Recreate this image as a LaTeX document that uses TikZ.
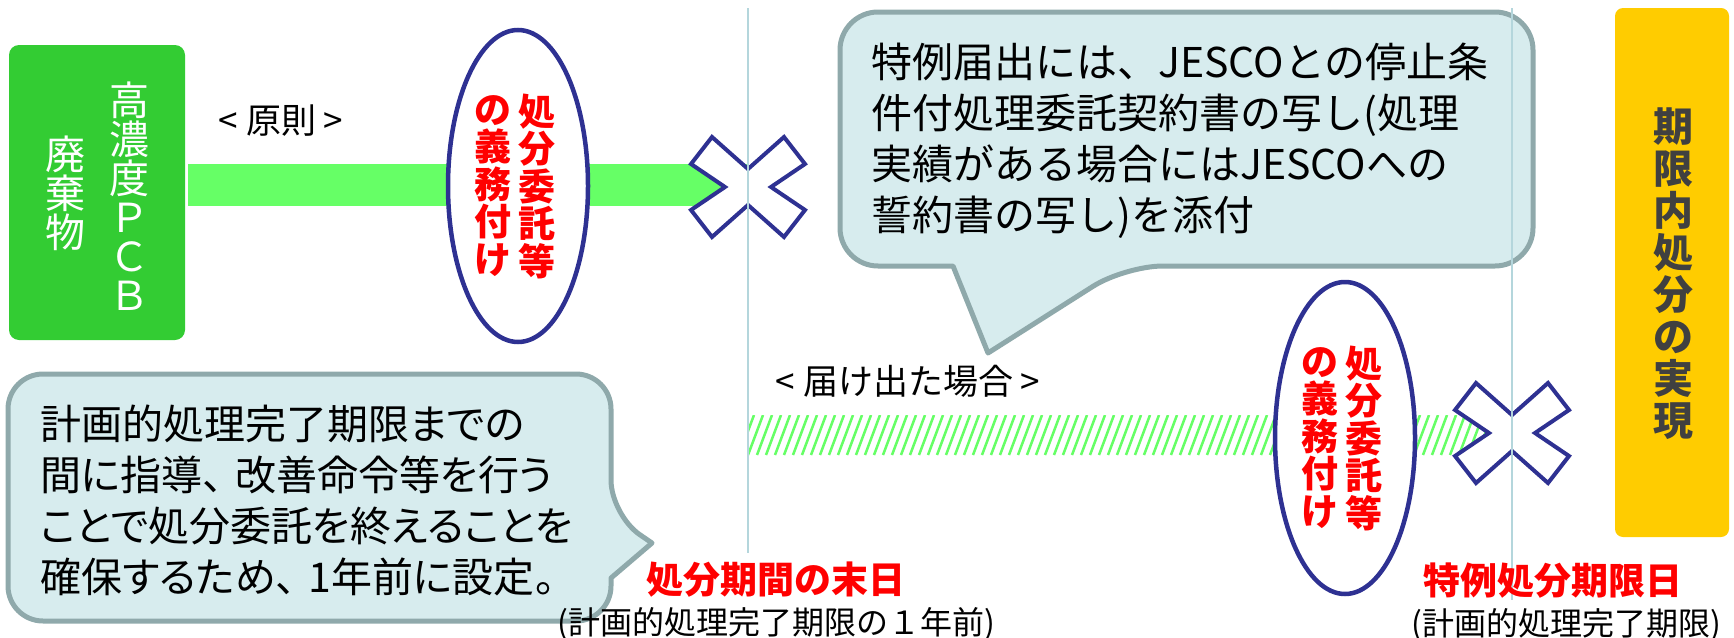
\documentclass[tikz,border=0pt]{standalone}
\usepackage{fontspec}
\setmainfont{Noto Sans CJK JP}
\newfontfamily\jpProp{Noto Sans CJK JP}[RawFeature=+palt]
\usetikzlibrary{shapes.geometric, positioning}
\definecolor{wasteGreen}{HTML}{33CC33}
\definecolor{barGreen}{HTML}{66FF66}
\definecolor{goalYellow}{HTML}{FFCC00}
\definecolor{goalGray}{HTML}{404040}
\definecolor{ovalNavy}{HTML}{2E3192}
\definecolor{noteFill}{HTML}{D7ECEE}
\definecolor{noteEdge}{HTML}{8FA9AB}
\definecolor{guideBlue}{HTML}{B4D6DC}
\setlength{\lineskiplimit}{-100pt}
\tikzstyle{pWaste} = [rectangle, rounded corners=10pt, minimum width=176pt, minimum height=295pt, fill=wasteGreen]
\tikzstyle{pWasteText} = [align=center, inner sep=0pt, text=white, font=\fontsize{40}{39}\selectfont]
\tikzstyle{pGoal} = [rectangle, rounded corners=8pt, minimum width=114pt, minimum height=529pt, fill=goalYellow]
\tikzstyle{pGoalText} = [align=center, inner sep=0pt, text=goalGray, font=\bfseries\fontsize{40}{42}\selectfont]
\tikzstyle{pDuty} = [ellipse, draw=ovalNavy, line width=4.5pt, fill=white, minimum width=140pt, minimum height=312pt, inner sep=0pt]
\tikzstyle{pDutyText} = [align=center, inner sep=0pt, text=red, font=\bfseries\fontsize{37}{37.5}\selectfont]
\tikzstyle{pCross} = [draw=ovalNavy, line width=4pt, fill=white, line join=miter]
\tikzstyle{pNote} = [draw=noteEdge, line width=5pt, fill=noteFill, line join=round]
\tikzstyle{pNoteText} = [align=left, inner sep=0pt, anchor=west, font=\fontsize{41}{51}\selectfont]
\tikzstyle{pGuide} = [draw=guideBlue, line width=2pt]
\tikzstyle{pCase} = [inner sep=0pt, font=\fontsize{35}{40}\selectfont]
\tikzstyle{pDate} = [inner sep=0pt, text=red, font=\bfseries\fontsize{37}{40}\selectfont]
\tikzstyle{pSub} = [inner sep=0pt, font=\fontsize{32}{36}\selectfont]
\begin{document}
\begin{tikzpicture}[x=1pt, y=-1pt]
    \useasboundingbox (0,0) rectangle (1734,637);
    \node (waste) [pWaste] at (97,192.5) {};
    \node (wasteRight) [pWasteText] at (129,196) {高\\濃\\度\\Ｐ\\Ｃ\\Ｂ};
    \node (wasteLeft) [pWasteText] at (65,193.5) {廃\\棄\\物};
    \node (goal) [pGoal] at (1672,272.5) {};
    \node (goalText) [pGoalText] at (1673,273.5) {期\\限\\内\\処\\分\\の\\実\\現};
    \coordinate (crossA) at (748,187);
    \coordinate (crossB) at (1512,433);

    % bars
    \fill[barGreen] (188,164) rectangle (crossA |- 0,206);
    \begin{scope}
        \clip (crossA |- 0,415) rectangle (crossB |- 0,455);
        \foreach \k in {730,739,...,1520}
            \draw[barGreen, line width=2.5pt] (\k,455) -- (\k+15,415);
    \end{scope}

    % obligation ovals
    \node (dutyA) [pDuty] at (518,186) {};
    \node (dutyARight) [pDutyText, xshift=19pt] at (dutyA) {処\\分\\委\\託\\等};
    \node (dutyALeft) [pDutyText, xshift=-25pt] at (dutyA) {の\\義\\務\\付\\け};
    \node (dutyB) [pDuty] at (1345,438) {};
    \node (dutyBRight) [pDutyText, xshift=19pt] at (dutyB) {処\\分\\委\\託\\等};
    \node (dutyBLeft) [pDutyText, xshift=-25pt] at (dutyB) {の\\義\\務\\付\\け};

    \foreach \c in {crossA, crossB}
        \draw[pCross, shift={(\c)}] (-57,-23) -- (-36,-50) -- (0,-18) -- (36,-50) -- (57,-23) -- (23,0) -- (57,23) -- (36,50) -- (0,18) -- (-36,50) -- (-57,23) -- (-23,0) -- cycle;

    % callouts
    \draw[pNote] (953,266) [rounded corners=38pt] -- (840,266) -- (840,12) -- (1533,12) -- (1533,266) -- (1125,266) [sharp corners] -- (988,353) -- cycle;
    \draw[pNote] (611,578) [rounded corners=35pt] -- (611,621) -- (8,621) -- (8,374) -- (611,374) -- (611,515) [sharp corners] -- (652,543) -- cycle;

    \draw[pGuide] (crossA |- 0,8) -- (crossA |- 0,553);
    \draw[pGuide] (crossB |- 0,8) -- (crossB |- 0,600);

    \node (principle) [pCase] at (281,121) {< 原則 >};
    \node (reported) [pCase] at (908,381) {< 届け出た場合 >};
    \node (noteTop) [pNoteText] at (871,140.5) {特例届出には、JESCOとの停止条\\件付処理委託契約書の写し(処理\\実績がある場合にはJESCOへの\\誓約書の写し)を添付};
    \node (noteLeft) [pNoteText, font=\jpProp\fontsize{41}{51}\selectfont] at (40,500.5) {計画的処理完了期限までの\\間に指導、\hspace{12pt}改善命令等を行う\\ことで処分委託を終えることを\\確保するため、\hspace{12pt}1年前に設定。};
    \node (endDate) [pDate] at (776,580) {処分期間の末日};
    \node (endSub) [pSub, below=9pt of endDate] {(計画的処理完了期限の１年前)};
    \node (limitDate) [pDate] at (1553,581) {特例処分期限日};
    \node (limitSub) [pSub, below=9pt of limitDate, xshift=13pt] {(計画的処理完了期限)};
\end{tikzpicture}
\end{document}
